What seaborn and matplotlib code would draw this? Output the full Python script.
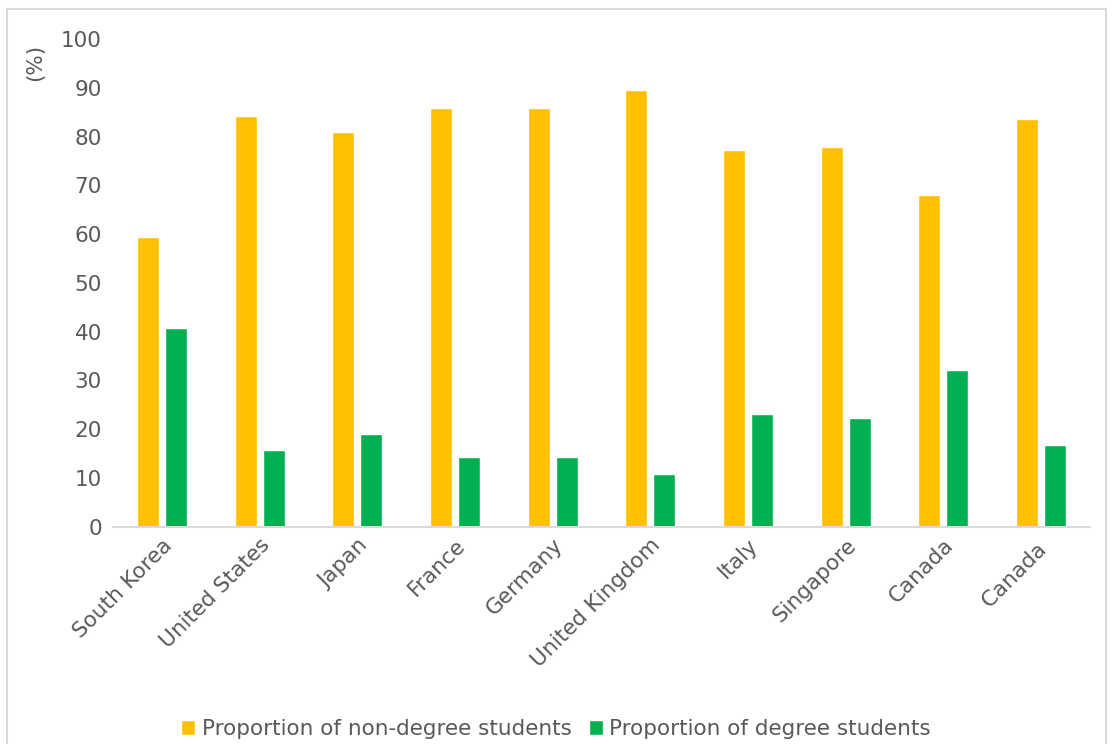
import matplotlib
matplotlib.use("Agg")
import matplotlib.pyplot as plt
import seaborn as sns
import pandas as pd
from matplotlib.patches import Rectangle

countries = ["South Korea", "United States", "Japan", "France", "Germany",
             "United Kingdom", "Italy", "Singapore", "Canada", "Canada "]
non_degree = [59.3, 84.2, 81.0, 85.8, 85.8, 89.6, 77.3, 77.9, 68.1, 83.5]
degree = [40.7, 15.8, 19.1, 14.2, 14.2, 10.8, 23.1, 22.2, 32.1, 16.7]
series_names = ["Proportion of non-degree students", "Proportion of degree students"]
colors = ["#FFC000", "#00B050"]

df = pd.DataFrame({
    "country": countries * 2,
    "value": non_degree + degree,
    "series": [series_names[0]] * len(countries) + [series_names[1]] * len(countries),
})

sns.set_theme(style="white")
plt.rcParams["font.family"] = ["DejaVu Sans"]
FS = 15.5
TC = "#595959"

fig = plt.figure(figsize=(11.12, 7.44), dpi=100)
ax = fig.add_axes([113 / 1112, 1 - 526.7 / 744, (1090 - 113) / 1112, (526.7 - 39) / 744])

sns.barplot(data=df, x="country", y="value", hue="series", palette=colors,
            width=0.573, gap=0.214, saturation=1, ax=ax, legend=True)

ax.set_ylim(0, 100)
ax.set_xlim(-0.5, len(countries) - 0.5)
ax.set_yticks(range(0, 101, 10))
ax.set_xlabel("")
ax.set_ylabel("")
for s in ["top", "right", "left"]:
    ax.spines[s].set_visible(False)
ax.spines["bottom"].set_color("#D9D9D9")
ax.spines["bottom"].set_linewidth(1.5)
ax.tick_params(axis="y", length=0, pad=8, labelsize=FS, labelcolor=TC)
ax.tick_params(axis="x", length=0, pad=6, labelsize=FS, labelcolor=TC)
plt.setp(ax.get_xticklabels(), rotation=45, ha="right", rotation_mode="anchor")

handles, labels = ax.get_legend_handles_labels()
ax.get_legend().remove()
fig.legend(handles, labels, loc="center", bbox_to_anchor=(0.5, 1 - 729 / 744),
           ncol=2, frameon=False, fontsize=FS, handlelength=0.65, handleheight=0.65,
           handletextpad=0.3, columnspacing=0.8, labelcolor=TC)

fig.text(35 / 1112, 1 - 62 / 744, "(%)", rotation=90, ha="center", va="center",
         fontsize=FS, color=TC)

fig.patches.append(Rectangle((7 / 1112, -0.05), (1106 - 7) / 1112, 1.05 - 9 / 744,
                             transform=fig.transFigure, fill=False,
                             edgecolor="#D9D9D9", linewidth=1.5))

fig.savefig("out.png", dpi=100)
